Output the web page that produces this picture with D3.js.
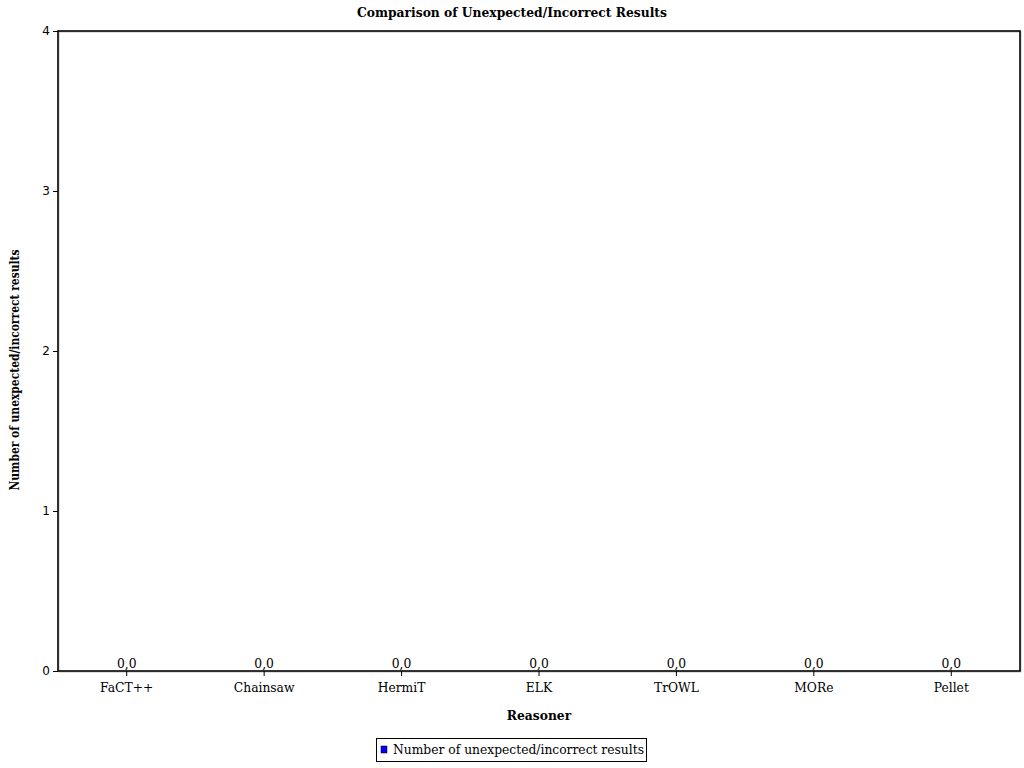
<!DOCTYPE html>
<html><head><meta charset="utf-8">
<script src="https://cdn.jsdelivr.net/npm/d3@7"></script>
<style>body{margin:0;background:#fff}svg{display:block}text{font-family:"DejaVu Serif",serif;fill:#000}</style>
</head><body>
<script>
const categories = ["FaCT++","Chainsaw","HermiT","ELK","TrOWL","MORe","Pellet"];
const values = [0,0,0,0,0,0,0];
const yTicks = [0,1,2,3,4];
const seriesName = "Number of unexpected/incorrect results";
const titleText = "Comparison of Unexpected/Incorrect Results";
const xTitle = "Reasoner";
const yTitle = "Number of unexpected/incorrect results";

const W=1024,H=768, L=58, R=1020, T=31, B=671;
const svg=d3.select("body").append("svg").attr("width",W).attr("height",H);
const x=d3.scaleBand().domain(categories).range([L,R]).paddingInner(0.2).paddingOuter(0.1);
const y=d3.scaleLinear().domain([0,4]).range([B,T]);

svg.append("text").attr("x",512).attr("y",17).attr("text-anchor","middle")
  .style("font-size","12.3px").style("font-weight","bold").text(titleText);

// bars (zero height)
svg.selectAll("rect.bar").data(values).enter().append("rect")
  .attr("x",(d,i)=>x(categories[i])).attr("width",x.bandwidth())
  .attr("y",d=>y(d)).attr("height",d=>B-y(d)).attr("fill","#0000ff");

// value labels
svg.selectAll("text.val").data(values).enter().append("text")
  .attr("x",(d,i)=>x(categories[i])+x.bandwidth()/2).attr("y",d=>y(d)-3)
  .attr("text-anchor","middle").style("font-size","12.3px")
  .text(d=>d.toFixed(1).replace(".",","));

// frame
svg.append("rect").attr("x",L+1).attr("y",T+1).attr("width",R-L).attr("height",B-T)
  .attr("fill","none").attr("stroke","#c0c0c0").attr("stroke-width",1);
svg.append("rect").attr("x",L).attr("y",T).attr("width",R-L).attr("height",B-T)
  .attr("fill","none").attr("stroke","#000").attr("stroke-width",1.6);

// y axis
const ya=svg.append("g").attr("transform",`translate(${L},0)`)
  .call(d3.axisLeft(y).tickValues(yTicks).tickFormat(d3.format("d")).tickSize(5).tickPadding(3));
ya.select(".domain").remove();
ya.selectAll("text").style("font-size","12px").style("font-family","DejaVu Sans");

// x axis
const xa=svg.append("g").attr("transform",`translate(0,${B})`)
  .call(d3.axisBottom(x).tickSize(5).tickPadding(7));
xa.select(".domain").remove();
xa.selectAll("text").style("font-size","12.3px").style("font-family","DejaVu Serif");

svg.append("text").attr("x",(L+R)/2).attr("y",720).attr("text-anchor","middle")
  .style("font-size","12.3px").style("font-weight","bold").text(xTitle);
svg.append("text").attr("transform",`translate(19,370) rotate(-90)`).attr("text-anchor","middle")
  .attr("textLength",241).attr("lengthAdjust","spacingAndGlyphs")
  .style("font-size","12.3px").style("font-weight","bold").text(yTitle);

// legend
const lg=svg.append("g");
lg.append("rect").attr("x",376.5).attr("y",738.5).attr("width",270).attr("height",23)
  .attr("fill","#fff").attr("stroke","#000");
lg.append("rect").attr("x",381).attr("y",746).attr("width",6).attr("height",7)
  .attr("fill","#0000ff").attr("stroke","#000").attr("stroke-width",0.5);
lg.append("text").attr("x",393).attr("y",754).style("font-size","12.3px").text(seriesName);
</script>
</body></html>
